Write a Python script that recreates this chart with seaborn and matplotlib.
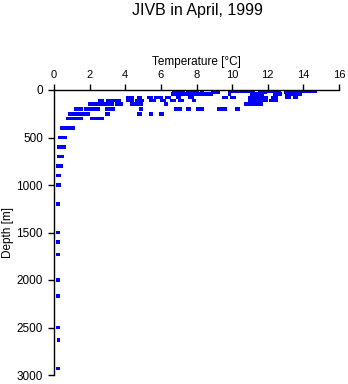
import matplotlib
matplotlib.use("Agg")
import matplotlib.pyplot as plt
import seaborn as sns
import pandas as pd

# Temperature readings [°C] grouped by sampling depth [m]
temp_10m = [9.85, 9.95, 10.05, 10.15, 10.25, 10.35, 10.45, 10.6, 10.75, 10.9, 11.05, 11.2,
            12.05, 12.2, 12.35, 12.5, 12.65, 13.3, 13.45, 13.6, 13.75, 13.9, 14.05, 14.2,
            14.35, 14.5, 14.65]
temp_20m = [6.7, 6.8, 6.95, 7.1, 7.25, 7.5, 7.65, 7.8, 7.95, 8.05, 8.3, 8.9, 9.05, 9.2,
            11.55, 11.7, 11.85, 13.0, 13.15]
temp_40m = [6.65, 6.8, 7.0, 7.15, 7.3, 7.5, 7.65, 7.8, 7.95, 8.1, 8.25, 8.4, 8.55, 8.7, 8.85,
            9.85, 11.1, 11.25, 11.4, 11.55, 11.7, 12.4, 12.55, 12.7, 13.05, 13.2, 13.35,
            13.5, 13.65, 13.8]
temp_80m = [4.15, 4.3, 4.4, 4.75, 4.85, 5.35, 5.45, 5.7, 5.85, 6.0, 6.35, 6.45, 6.95, 7.05,
            7.6, 7.75, 9.55, 9.65, 10.0, 10.1, 11.0, 11.15, 11.3, 11.45, 11.6, 11.75, 11.9,
            12.3, 12.45, 13.05, 13.2, 13.5, 13.6]
temp_110m = [2.55, 2.7, 3.05, 3.2, 3.35, 3.5, 3.65, 4.15, 4.3, 4.4, 4.65, 4.8, 4.95, 5.45,
             5.6, 6.05, 6.2, 6.6, 6.75, 7.05, 7.2, 7.85, 11.0, 11.15, 11.3, 11.45, 11.6,
             11.75, 11.9, 12.15, 12.3, 12.45]
temp_150m = [2.0, 2.15, 2.3, 2.5, 2.65, 2.75, 2.95, 3.1, 3.25, 3.5, 3.65, 3.75, 4.35, 4.5,
             4.65, 4.9, 6.3, 10.75, 10.9, 11.05, 11.2, 11.35, 11.5, 11.65]
temp_200m = [1.25, 1.4, 1.55, 1.8, 1.95, 2.1, 2.25, 2.4, 2.5, 2.95, 3.1, 3.3, 4.9, 6.85, 7.0,
             7.1, 7.5, 7.6, 8.05, 8.2, 8.3, 9.25, 9.35, 9.5, 9.6, 10.25, 10.35]
temp_250m = [0.9, 1.05, 1.2, 1.35, 1.5, 1.65, 1.8, 1.9, 2.95, 3.05, 4.75, 4.85, 5.45, 6.0, 6.1]
temp_300m = [0.75, 0.9, 1.05, 1.2, 1.35, 1.5, 2.15, 2.3, 2.4, 2.6, 2.7]
temp_400m = [0.45, 0.55, 0.65, 0.75, 0.85, 0.95, 1.05, 1.1]
temp_500m = [0.35, 0.45, 0.55, 0.65]
temp_600m = [0.28, 0.38, 0.48, 0.55]
temp_700m = [0.25, 0.35, 0.45]
temp_800m = [0.22, 0.32, 0.38]
temp_900m = [0.22, 0.3]
temp_1000m = [0.22, 0.3]

# Single casts below 1000 m
deep_depth = [1200, 1500, 1600, 1730, 2000, 2170, 2500, 2630, 2930]
deep_temp = [0.24, 0.22, 0.22, 0.22, 0.22, 0.22, 0.22, 0.25, 0.22]

x_ticks = [0, 2, 4, 6, 8, 10, 12, 14, 16]
y_ticks = [0, 500, 1000, 1500, 2000, 2500, 3000]

profiles = [
    (10, temp_10m), (20, temp_20m), (40, temp_40m), (80, temp_80m), (110, temp_110m),
    (150, temp_150m), (200, temp_200m), (250, temp_250m), (300, temp_300m),
    (400, temp_400m), (500, temp_500m), (600, temp_600m), (700, temp_700m),
    (800, temp_800m), (900, temp_900m), (1000, temp_1000m),
]
rows = [(t, d) for d, temps in profiles for t in temps]
rows += list(zip(deep_temp, deep_depth))
df = pd.DataFrame(rows, columns=["temperature", "depth"])

sns.set_theme(style="white")
plt.rcParams["font.family"] = ["Liberation Sans", "DejaVu Sans"]

fig = plt.figure(figsize=(3.48, 3.84), dpi=100)
ax = fig.add_axes([54 / 348, 9 / 384, 285 / 348, 285 / 384])

sns.scatterplot(data=df, x="temperature", y="depth", ax=ax, marker="s", s=7,
                color="#0000ff", linewidth=0, edgecolor="none", legend=False)

ax.set_xlim(0, 16)
ax.set_ylim(3000, 0)
ax.set_xticks(x_ticks)
ax.set_yticks(y_ticks)
ax.xaxis.tick_top()
ax.xaxis.set_label_position("top")
ax.set_xlabel("Temperature [°C]", fontsize=8.5, labelpad=4, color="black")
ax.set_ylabel("Depth [m]", fontsize=8.5, labelpad=2, color="black")
ax.tick_params(axis="x", which="major", top=True, bottom=False, direction="out",
               length=4, width=1, pad=3, labelsize=8, colors="black")
ax.tick_params(axis="y", which="major", left=True, direction="out",
               length=4, width=1, pad=4, labelsize=8.5, colors="black")

for side in ["bottom", "right"]:
    ax.spines[side].set_visible(False)
for side in ["top", "left"]:
    ax.spines[side].set_color("black")
    ax.spines[side].set_linewidth(1)

fig.text(197 / 348, 1 - 10 / 384, "JIVB in April, 1999", ha="center", va="center",
         fontsize=11.5, color="black")

fig.savefig("out.png", dpi=100, facecolor="white")
